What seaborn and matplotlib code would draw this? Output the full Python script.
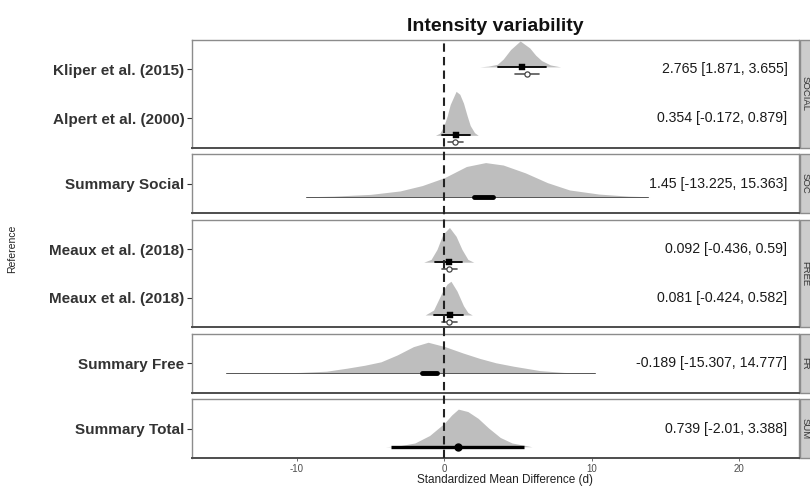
import numpy as np
import matplotlib.pyplot as plt
import seaborn as sns
from matplotlib.patches import Rectangle
from matplotlib.lines import Line2D

sns.set_theme(style="white")
plt.rcParams['font.family'] = ['Liberation Sans', 'DejaVu Sans']
plt.rcParams['axes.unicode_minus'] = False

# %% data, rows from top to bottom
labels = ["Kliper et al. (2015)", "Alpert et al. (2000)", "Summary Social",
          "Meaux et al. (2018)", "Meaux et al. (2018)", "Summary Free", "Summary Total"]
row_panel = [0, 0, 1, 2, 2, 3, 4]
panel_names = ["SOCIAL", "SOC", "FREE", "FR", "SUM"]
est_text = ["2.765 [1.871, 3.655]", "0.354 [-0.172, 0.879]", "1.45 [-13.225, 15.363]",
            "0.092 [-0.436, 0.59]", "0.081 [-0.424, 0.582]", "-0.189 [-15.307, 14.777]",
            "0.739 [-2.01, 3.388]"]

# posterior density slabs: x knots and height (row units)
slab_x = [
    [2.4, 3.0, 3.6, 4.0, 4.5, 5.15, 5.8, 6.2, 6.6, 7.2, 7.9],
    [-0.6, -0.3, -0.05, 0.2, 0.4, 0.8, 1.05, 1.3, 1.55, 1.76, 2.05, 2.3],
    [-9.4, -7.5, -5.0, -3.0, -1.5, 0.0, 1.5, 2.8, 4.0, 5.5, 7.0, 8.5, 10.5, 12.5, 14.0],
    [-1.4, -0.9, -0.5, -0.1, 0.35, 0.8, 1.2, 1.6, 2.0],
    [-1.3, -0.73, -0.16, 0.18, 0.45, 0.86, 1.3, 1.6, 1.9],
    [-12.0, -9.8, -8.0, -6.6, -5.4, -4.3, -3.2, -2.1, -1.1, 0.05, 1.27, 2.4, 3.5, 4.7, 6.5, 8.1, 9.5],
    [-4.0, -3.0, -2.0, -1.0, 0.0, 0.5, 0.95, 1.6, 2.3, 3.0, 3.8, 4.6, 5.95],
]
slab_h = [
    [0, 0.016, 0.053, 0.16, 0.355, 0.53, 0.387, 0.24, 0.13, 0.04, 0],
    [0, 0.045, 0.18, 0.4, 0.63, 0.9, 0.84, 0.66, 0.4, 0.2, 0.055, 0],
    [0, 0.014, 0.05, 0.12, 0.23, 0.39, 0.62, 0.7, 0.65, 0.49, 0.29, 0.14, 0.056, 0.014, 0],
    [0, 0.057, 0.26, 0.57, 0.71, 0.53, 0.26, 0.057, 0],
    [0, 0.1, 0.46, 0.63, 0.69, 0.49, 0.19, 0.05, 0],
    [0, 0.013, 0.038, 0.1, 0.16, 0.23, 0.37, 0.54, 0.63, 0.54, 0.41, 0.3, 0.21, 0.14, 0.05, 0.013, 0],
    [0, 0.023, 0.077, 0.23, 0.48, 0.65, 0.77, 0.72, 0.58, 0.385, 0.19, 0.077, 0],
]
slab_shift = [-0.05, 0.35, 0.27, 0.27, 0.35, 0.2, 0.37]

# posterior estimate with intervals
post_mid = [5.3, 0.8, 2.6, 0.34, 0.36, -1.1, 0.95]
wide_lo = [3.66, -0.15, -9.4, -0.6, -0.7, -14.8, -3.6]
wide_hi = [6.92, 1.72, 13.8, 1.2, 1.3, 10.2, 5.4]
narrow_lo = [None, None, 2.0, None, None, -1.5, None]
narrow_hi = [None, None, 3.3, None, None, -0.47, None]

# observed effect sizes (open circles), studies only
obs_mid = [5.63, 0.75, None, 0.3, 0.3, None, None]
obs_lo = [4.81, 0.27, None, -0.16, -0.16, None, None]
obs_hi = [6.44, 1.3, None, 0.86, 0.86, None, None]

xticks = [-10, 0, 10, 20]

# %% layout
fig = plt.figure(figsize=(8.1, 4.9), dpi=100)
counts = [row_panel.count(p) for p in range(len(panel_names))]
ratios = [c - 1 + 1.2 for c in counts]
gs = fig.add_gridspec(len(panel_names), 1, height_ratios=ratios, left=192 / 810, right=799 / 810,
                      top=1 - 40 / 490, bottom=1 - 458 / 490, hspace=0.086)
axes = [fig.add_subplot(gs[i]) for i in range(len(panel_names))]

slab_col = '#bebebe'
for p, ax in enumerate(axes):
    rows = [i for i in range(len(labels)) if row_panel[i] == p]
    for k, i in enumerate(rows):
        base = k + slab_shift[i]
        x = np.array(slab_x[i])
        h = np.array(slab_h[i])
        ax.fill_between(x, base, base - h, color=slab_col, lw=0, zorder=1)
        if narrow_lo[i] is None and obs_mid[i] is None:
            # summary total: thick interval
            ax.plot([wide_lo[i], wide_hi[i]], [base, base], color='black', lw=2.4,
                    solid_capstyle='butt', zorder=3)
            ax.plot(post_mid[i], base, marker='o', ms=5, color='black', zorder=4)
        elif narrow_lo[i] is not None:
            ax.plot([wide_lo[i], wide_hi[i]], [base, base], color='#555555', lw=0.7, zorder=2)
            ax.plot([narrow_lo[i], narrow_hi[i]], [base, base], color='black', lw=3.5,
                    solid_capstyle='round', zorder=3)
        else:
            ax.plot([wide_lo[i], wide_hi[i]], [base, base], color='black', lw=1.3, zorder=3)
            sns.scatterplot(x=[post_mid[i]], y=[base], ax=ax, color='black', s=14,
                            marker='s', edgecolor='black', zorder=4, legend=False)
            yo = base + 0.14
            ax.plot([obs_lo[i], obs_hi[i]], [yo, yo], color='#555555', lw=1.2, zorder=3)
            sns.scatterplot(x=[obs_mid[i]], y=[yo], ax=ax, color='white', s=14,
                            edgecolor='#444444', linewidth=0.9, zorder=4, legend=False)
        ax.text(0.981, 1 - (k + 0.6) / ratios[p], est_text[i], transform=ax.transAxes,
                ha='right', va='center', fontsize=10.2, color='#1a1a1a')

    ax.set_xlim(-17.13, 24.08)
    ax.set_ylim(len(rows) - 1 + 0.6, -0.6)
    ax.set_yticks(range(len(rows)))
    ax.set_yticklabels([labels[i] for i in rows], fontsize=11, fontweight='bold', color='#333333')
    ax.tick_params(axis='y', left=True, length=3.5, width=0.8, color='#333333', pad=2)
    ax.set_xticks(xticks)
    if p < len(axes) - 1:
        ax.tick_params(axis='x', bottom=False, labelbottom=False)
    else:
        ax.tick_params(axis='x', bottom=True, length=2.5, width=0.6, color='#555555',
                       labelsize=7, labelcolor='#4d4d4d', pad=1.5)
    ax.grid(False)
    for side in ['left', 'top', 'right']:
        ax.spines[side].set_color('#8c8c8c')
        ax.spines[side].set_linewidth(1.0)
    ax.spines['bottom'].set_color('#4d4d4d')
    ax.spines['bottom'].set_linewidth(1.4)

    # facet strip on the right
    ax.add_patch(Rectangle((1.0015, 0), 0.04, 1, transform=ax.transAxes, clip_on=False,
                           facecolor='#cccccc', edgecolor='#8c8c8c', lw=1.0))
    ax.text(1.0095, 0.5, panel_names[p], transform=ax.transAxes, rotation=270,
            ha='center', va='center', fontsize=6.8, color='#333333', clip_on=False)

axes[-1].set_xlabel("Standardized Mean Difference (d)", fontsize=8.5, color='#222222', labelpad=1)
axes[-1].xaxis.set_label_coords((505 - 192) / 607, -0.27)
axes[0].set_title("Intensity variability", fontsize=14, fontweight='bold', color='#111111', pad=6.5)
fig.text(12 / 810, 1 - 249 / 490, "Reference", rotation=90, ha='center', va='center',
         fontsize=7.5, color='#222222')

# dashed reference line at zero across all panels
fig.canvas.draw()
x0 = axes[0].transData.transform((0, 0))[0] / fig.bbox.width
fig.add_artist(Line2D([x0, x0], [1 - 458 / 490, 1 - 40 / 490], transform=fig.transFigure,
                      color='#222222', lw=1.5, linestyle=(0, (4, 2.5)), zorder=5))

fig.savefig('out.png', dpi=100)
